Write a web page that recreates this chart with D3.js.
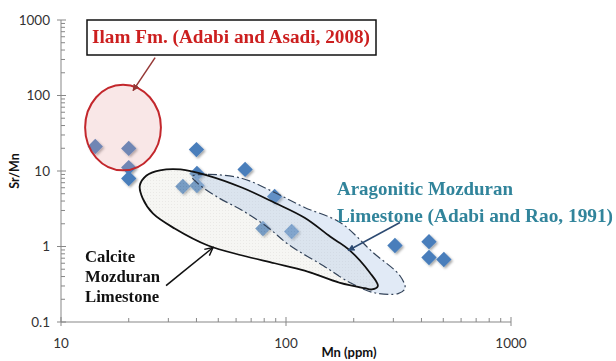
<!DOCTYPE html>
<html>
<head>
<meta charset="utf-8">
<script src="https://cdn.jsdelivr.net/npm/d3@7"></script>
<style>
  html, body { margin: 0; padding: 0; background: #fff; }
  svg { display: block; }
</style>
</head>
<body>
<div id="chart"></div>
<script>
// --- data (Mn ppm, Sr/Mn) ---
const samplesMn   = [14.2, 20, 20, 20, 40, 34.8, 40.2, 40.2, 65.8, 89, 79, 106, 305, 432, 432, 503];
const samplesSrMn = [21.1, 19.9, 11.1, 7.96, 19.2, 6.23, 6.43, 9.27, 10.5, 4.59, 1.73, 1.58, 1.03, 1.16, 0.715, 0.673];

const xTicks = [10, 100, 1000];
const yTicks = [0.1, 1, 10, 100, 1000];

// field outlines, in data units
const ilamMnRange   = [12.8, 27.8];
const ilamSrMnRange = [10.2, 139];

const calciteMn   = [22.4, 24, 27.5, 34, 45, 64, 89, 121, 157, 192, 236, 256, 241, 224, 174, 121, 89, 64, 45, 32, 25.6, 23.1];
const calciteSrMn = [6.4, 8.7, 10.2, 10.5, 8.7, 6.0, 3.8, 2.4, 1.36, 0.89, 0.45, 0.30, 0.27, 0.28, 0.33, 0.48, 0.6, 0.76, 1.03, 1.73, 2.74, 4.3];

const aragMn   = [38.2, 45, 64, 89, 121, 174, 244, 321, 338, 315, 244, 192, 146, 104, 83, 64, 49.9, 40.6];
const aragSrMn = [8.46, 9.0, 7.96, 5.19, 3.29, 2.08, 0.83, 0.41, 0.278, 0.238, 0.246, 0.334, 0.56, 1.03, 1.79, 3.0, 4.46, 6.83];

// arrows [fromMn, fromSrMn, toMn, toSrMn]
const ilamArrow    = [26.2, 318, 20.9, 116];
const calciteArrow = [29.3, 0.304, 47.4, 0.97];
const aragArrow    = [321, 2.08, 189, 0.885];

const W = 616, H = 361;
const margin = {left: 61, top: 20, right: 105, bottom: 39};

const svg = d3.select("#chart").append("svg")
  .attr("width", W).attr("height", H)
  .style("font-family", "Lato, 'Open Sans', sans-serif");

const x = d3.scaleLog().domain([10, 1000]).range([margin.left, W - margin.right]);
const y = d3.scaleLog().domain([0.1, 1000]).range([H - margin.bottom, margin.top]);

const defs = svg.append("defs");
const shadow = defs.append("filter").attr("id", "shadow")
  .attr("x", "-50%").attr("y", "-50%").attr("width", "200%").attr("height", "200%");
shadow.append("feDropShadow").attr("dx", 1.5).attr("dy", 1.5)
  .attr("stdDeviation", 1.3).attr("flood-color", "#000").attr("flood-opacity", 0.35);

const dots = defs.append("pattern").attr("id", "dots")
  .attr("width", 3).attr("height", 3).attr("patternUnits", "userSpaceOnUse");
dots.append("rect").attr("width", 3).attr("height", 3).attr("fill", "#e2e0d6");
dots.append("rect").attr("width", 1).attr("height", 1).attr("fill", "#b8b6ac");

function marker(id, color, open){
  const m = defs.append("marker").attr("id", id)
    .attr("viewBox", "0 0 10 10").attr("refX", 9).attr("refY", 5)
    .attr("markerWidth", 7).attr("markerHeight", 7)
    .attr("markerUnits", "userSpaceOnUse").attr("orient", "auto");
  if(open){
    m.attr("markerWidth", 10).attr("markerHeight", 10);
    m.append("path").attr("d", "M1,1 L9,5 L1,9").attr("fill", "none")
      .attr("stroke", color).attr("stroke-width", 1.4);
  } else {
    m.append("path").attr("d", "M0,0 L10,5 L0,10 z").attr("fill", color);
  }
}
marker("arRed", "#953735", false);
marker("arBlack", "#111", true);
marker("arBlue", "#2c4a72", false);

// --- axes ---
const axisColor = "#878787";
const ax = svg.append("g").attr("stroke", axisColor).attr("stroke-width", 1);

ax.append("line").attr("x1", x(10)).attr("x2", x(10)).attr("y1", y(1000)).attr("y2", y(0.1));
ax.append("line").attr("x1", x(10)).attr("x2", x(1000)).attr("y1", y(0.1)).attr("y2", y(0.1));

const minorY = [];
yTicks.slice(0, -1).forEach(t => { for(let k = 2; k <= 9; k++) minorY.push(t * k); });
const minorX = [];
xTicks.slice(0, -1).forEach(t => { for(let k = 2; k <= 9; k++) minorX.push(t * k); });

ax.selectAll(".ymaj").data(yTicks).join("line")
  .attr("x1", x(10) - 4).attr("x2", x(10) + 5)
  .attr("y1", d => y(d)).attr("y2", d => y(d));
ax.selectAll(".ymin").data(minorY).join("line")
  .attr("x1", x(10)).attr("x2", x(10) + 4)
  .attr("y1", d => y(d)).attr("y2", d => y(d));
ax.selectAll(".xmaj").data(xTicks).join("line")
  .attr("x1", d => x(d)).attr("x2", d => x(d))
  .attr("y1", y(0.1) - 5).attr("y2", y(0.1) + 4);
ax.selectAll(".xmin").data(minorX).join("line")
  .attr("x1", d => x(d)).attr("x2", d => x(d))
  .attr("y1", y(0.1) - 4).attr("y2", y(0.1));

svg.selectAll(".ylab").data(yTicks).join("text")
  .attr("x", x(10) - 11).attr("y", d => y(d)).attr("dy", "0.35em")
  .attr("text-anchor", "end").attr("font-size", 13.5).attr("fill", "#333")
  .text(d => d3.format("")(d));
svg.selectAll(".xlab").data(xTicks).join("text")
  .attr("x", d => x(d)).attr("y", y(0.1) + 26)
  .attr("text-anchor", "middle").attr("font-size", 13.5).attr("fill", "#333")
  .text(d => d);

svg.append("text")
  .attr("transform", `translate(19,${y(10)}) rotate(-90)`)
  .attr("text-anchor", "middle").attr("font-size", 12.5).attr("font-weight", 700)
  .attr("fill", "#111").text("Sr/Mn");
svg.append("text")
  .attr("x", 349).attr("y", 357)
  .attr("text-anchor", "middle").attr("font-size", 13).attr("font-weight", 700)
  .attr("fill", "#111").text("Mn (ppm)");

// --- samples ---
const pts = samplesMn.map((m, i) => [m, samplesSrMn[i]]);
svg.append("g").attr("filter", "url(#shadow)")
  .selectAll("path").data(pts).join("path")
  .attr("d", d3.symbol(d3.symbolSquare, 118))
  .attr("transform", d => `translate(${x(d[0])},${y(d[1])}) rotate(45)`)
  .attr("fill", "#4a7ebb");

// --- fields ---
const outline = d3.line().x(d => x(d[0])).y(d => y(d[1]))
  .curve(d3.curveCatmullRomClosed.alpha(0.5));
const calcite = calciteMn.map((m, i) => [m, calciteSrMn[i]]);
const arag = aragMn.map((m, i) => [m, aragSrMn[i]]);

svg.append("path").attr("d", outline(calcite))
  .attr("fill", "url(#dots)").attr("fill-opacity", 0.3);
svg.append("path").attr("d", outline(arag))
  .attr("fill", "#9dbbe0").attr("fill-opacity", 0.3)
  .attr("stroke", "#34445a").attr("stroke-width", 1.2)
  .attr("stroke-dasharray", "9,3,2,3");
svg.append("path").attr("d", outline(calcite))
  .attr("fill", "none").attr("stroke", "#111").attr("stroke-width", 1.8);

const cx = Math.sqrt(ilamMnRange[0] * ilamMnRange[1]);
const cy = Math.sqrt(ilamSrMnRange[0] * ilamSrMnRange[1]);
svg.append("ellipse")
  .attr("cx", x(cx)).attr("cy", y(cy))
  .attr("rx", (x(ilamMnRange[1]) - x(ilamMnRange[0])) / 2)
  .attr("ry", (y(ilamSrMnRange[0]) - y(ilamSrMnRange[1])) / 2)
  .attr("fill", "#e6a0a0").attr("fill-opacity", 0.25)
  .attr("stroke", "#c3272c").attr("stroke-width", 2);

// --- arrows ---
function arrow(a, color, width, id){
  svg.append("line")
    .attr("x1", x(a[0])).attr("y1", y(a[1]))
    .attr("x2", x(a[2])).attr("y2", y(a[3]))
    .attr("stroke", color).attr("stroke-width", width)
    .attr("marker-end", `url(#${id})`);
}
arrow(ilamArrow, "#953735", 1.5, "arRed");
arrow(calciteArrow, "#111", 1.6, "arBlack");
arrow(aragArrow, "#2c4a72", 1.5, "arBlue");

// --- labels ---
const serif = "'Liberation Serif', 'DejaVu Serif', serif";
svg.append("rect")
  .attr("x", 87).attr("y", 20).attr("width", 289).attr("height", 35)
  .attr("fill", "#fff").attr("stroke", "#111").attr("stroke-width", 1.5);
svg.append("text")
  .attr("x", 92).attr("y", 43)
  .attr("font-family", serif).attr("font-size", 18).attr("font-weight", 700)
  .attr("fill", "#cc1f1f")
  .attr("textLength", 278).attr("lengthAdjust", "spacingAndGlyphs")
  .text("Ilam Fm. (Adabi and Asadi, 2008)");

const aragText = ["Aragonitic Mozduran", "Limestone (Adabi and Rao, 1991)"];
const aragWidth = [176, 276];
svg.selectAll(".arag").data(aragText).join("text")
  .attr("x", 337).attr("y", (d, i) => 195 + i * 27)
  .attr("font-family", serif).attr("font-size", 19.5).attr("font-weight", 700)
  .attr("fill", "#31849b")
  .attr("textLength", (d, i) => aragWidth[i]).attr("lengthAdjust", "spacingAndGlyphs")
  .text(d => d);

const calciteText = ["Calcite", "Mozduran", "Limestone"];
svg.selectAll(".calc").data(calciteText).join("text")
  .attr("x", 85).attr("y", (d, i) => 262 + i * 20)
  .attr("font-family", serif).attr("font-size", 16.7).attr("font-weight", 700)
  .attr("fill", "#111")
  .text(d => d);
</script>
</body>
</html>
